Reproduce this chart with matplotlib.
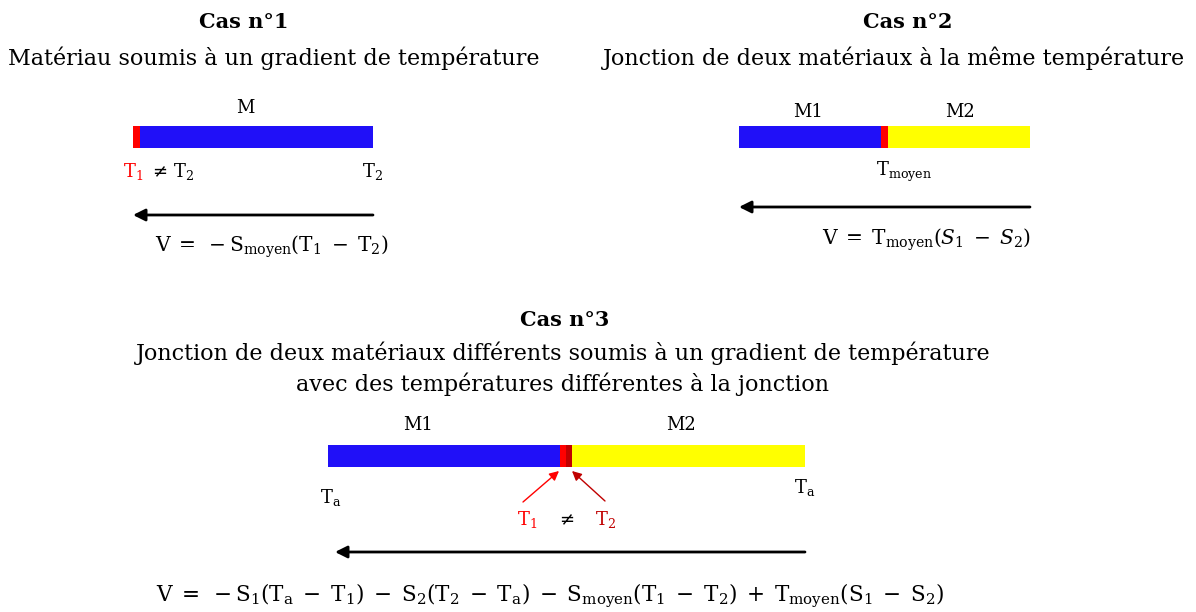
import matplotlib
matplotlib.use("Agg")
import matplotlib.pyplot as plt

plt.rcParams['font.family'] = ['DejaVu Serif']
plt.rcParams['mathtext.fontset'] = 'dejavuserif'

# ------------------------------------------------------------
# Diagram content
# ------------------------------------------------------------

titles = ["Cas n°1", "Cas n°2", "Cas n°3"]
subtitles = [
    "Matériau soumis à un gradient de température",
    "Jonction de deux matériaux à la même température",
    "Jonction de deux matériaux différents soumis à un gradient de température\n"
    "avec des températures différentes à la jonction",
]

# bar segments (length in px) for each case, left to right
case1_widths = [7, 233]
case2_widths = [142, 7, 142]
case3_widths = [232, 6, 6, 233]

materials1 = ["M"]
materials2 = ["M1", "M2"]
materials3 = ["M1", "M2"]

equations = [
    r"$\mathrm{V}\;=\;-\mathrm{S}_{\mathrm{moyen}}(\mathrm{T}_1\;-\;\mathrm{T}_2)$",
    r"$\mathrm{V}\;=\;\mathrm{T}_{\mathrm{moyen}}(S_1\;-\;S_2)$",
    r"$\mathrm{V}\;=\;-\mathrm{S}_1(\mathrm{T_a}\;-\;\mathrm{T}_1)\;-\;\mathrm{S}_2(\mathrm{T}_2\;-\;\mathrm{T_a})"
    r"\;-\;\mathrm{S}_{\mathrm{moyen}}(\mathrm{T}_1\;-\;\mathrm{T}_2)\;+\;\mathrm{T}_{\mathrm{moyen}}(\mathrm{S}_1\;-\;\mathrm{S}_2)$",
]

BLUE = "#2010f8"
RED = "#ff0000"
DARKRED = "#c00000"
YELLOW = "#ffff00"


def draw_bar(ax, x0, y, widths, colors, h=22):
    left = x0
    for w, c in zip(widths, colors):
        ax.barh(y, w, left=left, height=h, color=c, linewidth=0)
        left += w
    return left


def arrow(ax, x_from, x_to, y, color="black", lw=2, scale=18):
    ax.annotate("", xy=(x_to, y), xytext=(x_from, y),
                arrowprops=dict(arrowstyle="-|>", color=color, lw=lw,
                                mutation_scale=scale, shrinkA=0, shrinkB=0))


fig = plt.figure(figsize=(11.96, 6.12), dpi=100)
ax = fig.add_axes([0, 0, 1, 1])
ax.set_xlim(0, 1196)
ax.set_ylim(612, 0)
ax.axis("off")

title_kw = dict(fontsize=15, fontweight="bold", ha="center", va="center")
sub_kw = dict(fontsize=16, ha="center", va="center")
lab_kw = dict(fontsize=13, ha="center", va="center")
eq_kw = dict(fontsize=14.5, ha="center", va="center")

# --- Cas 1
ax.text(244, 22, titles[0], **title_kw)
ax.text(274, 58, subtitles[0], **sub_kw)
ax.text(245, 108, materials1[0], **lab_kw)
end1 = draw_bar(ax, 133, 137, case1_widths, [RED, BLUE])
ax.text(133, 171, r"$\mathrm{T}_1$", color=RED, **lab_kw)
ax.text(172, 171, r"$\neq\,\mathrm{T}_2$", **lab_kw)
ax.text(end1, 171, r"$\mathrm{T}_2$", **lab_kw)
arrow(ax, end1, 133, 215)
ax.text(272, 247, equations[0], **eq_kw)

# --- Cas 2
ax.text(908, 22, titles[1], **title_kw)
ax.text(894, 58, subtitles[1], **sub_kw)
ax.text(808, 112, materials2[0], **lab_kw)
ax.text(960, 112, materials2[1], **lab_kw)
end2 = draw_bar(ax, 739, 137, case2_widths, [BLUE, RED, YELLOW])
ax.text(904, 172, r"$\mathrm{T}_{\mathrm{moyen}}$", **lab_kw)
arrow(ax, end2, 739, 207)
ax.text(926, 240, equations[1], **eq_kw)

# --- Cas 3
ax.text(565, 320, titles[2], **title_kw)
ax.text(563, 369, subtitles[2], linespacing=1.4, **sub_kw)
ax.text(418, 425, materials3[0], **lab_kw)
ax.text(681, 425, materials3[1], **lab_kw)
end3 = draw_bar(ax, 328, 456, case3_widths, [BLUE, RED, DARKRED, YELLOW])
ax.text(331, 498, r"$\mathrm{T_a}$", **lab_kw)
ax.text(805, 488, r"$\mathrm{T_a}$", **lab_kw)
ax.annotate("", xy=(559, 471), xytext=(523, 502),
            arrowprops=dict(arrowstyle="-|>", color=RED, lw=1,
                            mutation_scale=14, shrinkA=0, shrinkB=0))
ax.annotate("", xy=(572, 471), xytext=(605, 501),
            arrowprops=dict(arrowstyle="-|>", color=DARKRED, lw=1,
                            mutation_scale=14, shrinkA=0, shrinkB=0))
ax.text(527, 520, r"$\mathrm{T}_1$", color=RED, **lab_kw)
ax.text(565, 520, r"$\neq$", **lab_kw)
ax.text(606, 520, r"$\mathrm{T}_2$", color=DARKRED, **lab_kw)
arrow(ax, end3, 335, 552)
ax.text(550, 596, equations[2], fontsize=15.5, ha="center", va="center")

fig.savefig("out.png", dpi=100)
